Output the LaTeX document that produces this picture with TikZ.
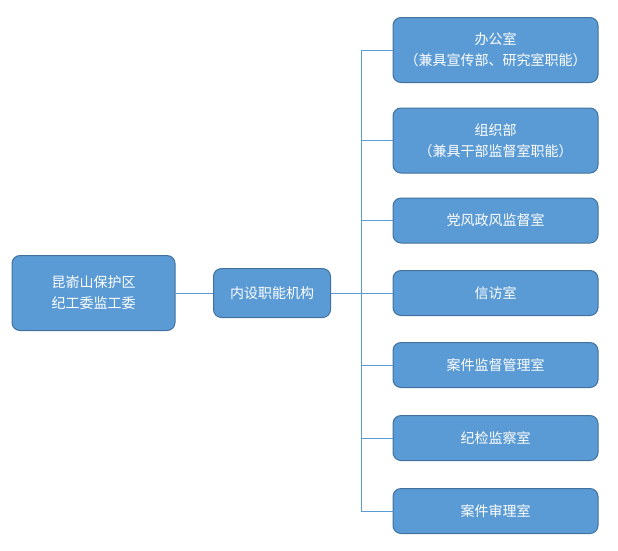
\documentclass[tikz,border=0pt]{standalone}
\usepackage{fontspec}
\setmainfont{Noto Sans CJK SC}
\usetikzlibrary{positioning}

\tikzset{
  box/.style={draw=boxline, fill=boxfill, rounded corners=8pt, text=white,
    align=center, inner sep=0pt, line width=1pt,
    font=\fontsize{14}{21}\selectfont},
  wide/.style={box, minimum width=205pt, minimum height=45pt},
  tall/.style={wide, minimum height=65pt},
  link/.style={draw=linecol, line width=0.9pt}
}
\definecolor{boxfill}{HTML}{5B9BD5}
\definecolor{boxline}{HTML}{41719C}
\definecolor{linecol}{HTML}{5B9BD5}

\begin{document}
\begin{tikzpicture}[x=1pt,y=-1pt]
\useasboundingbox (0,0) rectangle (618,550);

\node[box, minimum width=163pt, minimum height=75pt] (root) at (93.5,293) {昆嵛山保护区\\纪工委监工委};
\node[box, minimum width=117pt, minimum height=49pt] (inner) at (272,293) {内设职能机构};

\node[tall] (office) at (495.5,50) {办公室\\（兼具宣传部、研究室职能）};
\node[tall] (org) at (495.5,140.5) {组织部\\（兼具干部监督室职能）};
\node[wide] (style) at (495.5,220.5) {党风政风监督室};
\node[wide] (visit) at (495.5,293) {信访室};
\node[wide] (case) at (495.5,365) {案件监督管理室};
\node[wide] (check) at (495.5,438) {纪检监察室};
\node[wide] (trial) at (495.5,511) {案件审理室};

\coordinate (trunk) at (361,293);

\path
  (root) edge[link] (inner)
  (inner) edge[link] (trunk)
  (trunk) edge[link] (visit);
\draw[link] (trunk) |- (office.west);
\draw[link] (trunk) |- (org.west);
\draw[link] (trunk) |- (style.west);
\draw[link] (trunk) |- (case.west);
\draw[link] (trunk) |- (check.west);
\draw[link] (trunk) |- (trial.west);

\end{tikzpicture}
\end{document}
